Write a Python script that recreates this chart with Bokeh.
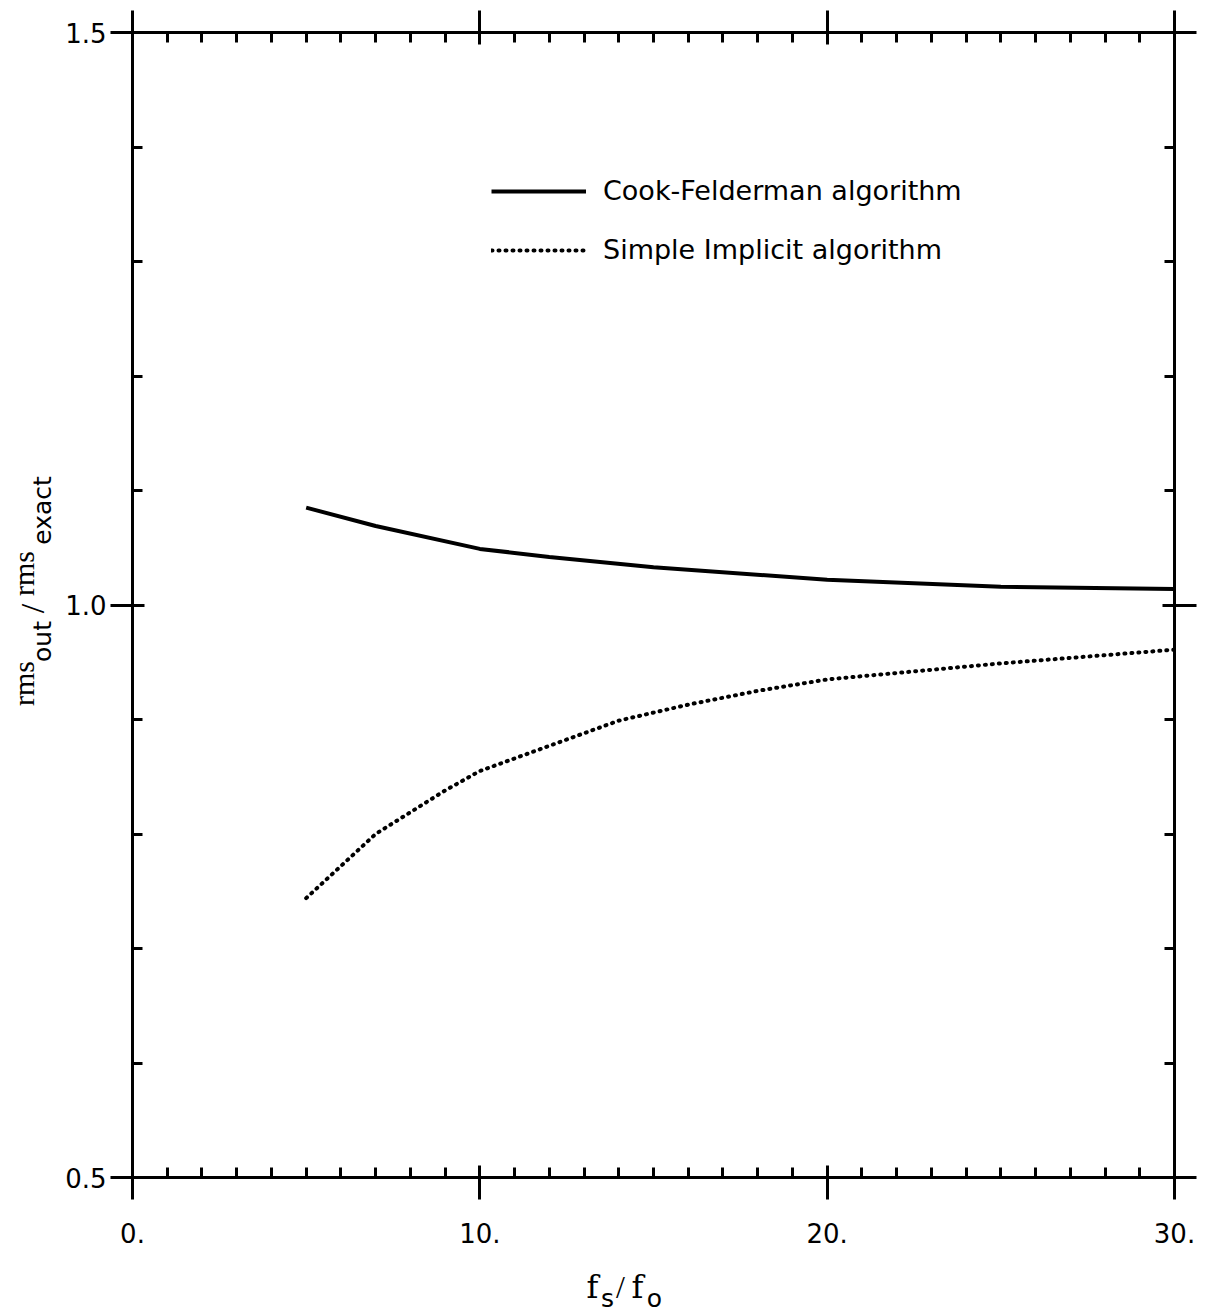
import math
from bokeh.plotting import figure
from bokeh.layouts import row, column
from bokeh.models import (Range1d, FixedTicker, LinearAxis, CustomJSTickFormatter,
                          Legend, LegendItem)
from bokeh.core.properties import value
from bokeh.embed import file_html
from bokeh.resources import INLINE

# ---- data ----
fs_cook = [5, 7, 10, 12, 15, 20, 25, 30]
ratio_cook = [1.085, 1.069, 1.049, 1.042, 1.033, 1.022, 1.016, 1.014]

fs_simple = [5, 7, 9, 10, 12, 14, 16, 18, 20, 25, 30]
ratio_simple = [0.744, 0.800, 0.838, 0.855, 0.877, 0.899, 0.913, 0.925, 0.935, 0.949, 0.961]

x_major = [0, 10, 20, 30]
x_minor = [v for v in range(0, 31) if v not in x_major]
y_major = [0.5, 1.0, 1.5]
y_minor = [0.6, 0.7, 0.8, 0.9, 1.1, 1.2, 1.3, 1.4]

series_names = ["Cook-Felderman algorithm", "Simple Implicit algorithm"]

# axis-title pieces
ylab_text = ["rms", "out", "/", "rms", "exact"]
xlab_text = ["f", "s", "/", "f", "o"]

# ---- layout constants ----
W, H = 1212, 1313
LEFT_W = 62          # strip holding the rotated y title
MAIN_H = 1262        # main plot height; strip below holds the x title
FL, FR, FT, FB = 131, 1174, 32, 1177
X0, X1, Y0, Y1 = 0, 30, 0.5, 1.5
YS_SHIFT = 34        # measured vertical offset of the rotated-title strip

SANS = "DejaVu Sans"
SERIF = "Liberation Serif"

p = figure(width=W - LEFT_W, height=MAIN_H, output_backend="svg", toolbar_location=None,
           title=None,
           x_range=Range1d(X0, X1), y_range=Range1d(Y0, Y1),
           x_axis_location=None, y_axis_location=None,
           min_border_left=FL - LEFT_W, min_border_right=W - FR,
           min_border_top=FT, min_border_bottom=MAIN_H - FB)
p.grid.visible = False
p.outline_line_color = None
p.background_fill_color = "white"
p.border_fill_color = "white"

xt = FixedTicker(ticks=x_major, minor_ticks=x_minor)
yt = FixedTicker(ticks=y_major, minor_ticks=y_minor)


def style(ax, show_labels):
    ax.axis_line_width = 3
    ax.axis_line_color = "black"
    ax.major_tick_line_width = 3
    ax.minor_tick_line_width = 3
    ax.major_tick_line_color = "black"
    ax.minor_tick_line_color = "black"
    ax.major_tick_in = 12
    ax.major_tick_out = 22
    ax.minor_tick_in = 10
    ax.minor_tick_out = 0
    ax.major_label_text_font = SANS
    ax.major_label_text_font_size = "26px"
    ax.major_label_text_color = "black"
    if not show_labels:
        ax.formatter = CustomJSTickFormatter(code="return ''")


bottom = LinearAxis(ticker=xt, formatter=CustomJSTickFormatter(code="return tick.toFixed(0) + '.'"))
style(bottom, True)
bottom.major_label_standoff = 23
top = LinearAxis(ticker=xt)
style(top, False)
left = LinearAxis(ticker=yt, formatter=CustomJSTickFormatter(code="return tick.toFixed(1)"))
style(left, True)
left.major_label_standoff = 4
right = LinearAxis(ticker=yt)
style(right, False)

p.add_layout(bottom, "below")
p.add_layout(top, "above")
p.add_layout(left, "left")
p.add_layout(right, "right")

r1 = p.line(fs_cook, ratio_cook, line_color="black", line_width=4)
r2 = p.line(fs_simple, ratio_simple, line_color="black", line_width=4,
            line_dash="1 6", line_cap="round")

legend = Legend(items=[LegendItem(label=series_names[0], renderers=[r1]),
                       LegendItem(label=series_names[1], renderers=[r2])],
                location=(490 - FL, FB - 265),
                glyph_width=95, glyph_height=30, label_height=30,
                spacing=28, label_standoff=17, padding=0, margin=0,
                border_line_color=None, background_fill_alpha=0,
                label_text_font=SANS, label_text_font_size="27px",
                label_text_color="black")
p.add_layout(legend, "center")


def strip(w, h):
    f = figure(width=w, height=h, frame_width=w, frame_height=h,
               output_backend="svg", toolbar_location=None, title=None,
               x_range=Range1d(0, w), y_range=Range1d(h, 0),
               x_axis_location=None, y_axis_location=None,
               min_border=0, min_border_left=0, min_border_right=0,
               min_border_top=0, min_border_bottom=0)
    f.grid.visible = False
    f.outline_line_color = None
    f.background_fill_color = "white"
    f.border_fill_color = "white"
    return f


# ---- y axis title: rms_out / rms_exact (rotated, reads upward); centre anchors ----
ys = strip(LEFT_W, MAIN_H)
ylab_pos = [(23, 685), (42, 643), (32, 610), (23, 575), (42, 512)]
ylab_font = [(SERIF, "30px"), (SANS, "25px"), (SERIF, "34px"), (SERIF, "30px"), (SANS, "25px")]
for txt, (cx, cy), (fnt, fsz) in zip(ylab_text, ylab_pos, ylab_font):
    ys.text(x=[cx], y=[cy - YS_SHIFT], text=[txt], angle=math.pi / 2,
            text_align="center", text_baseline="middle",
            text_font=value(fnt), text_font_size=fsz, text_color="black")

# ---- x axis title: f_s / f_o; centre anchors ----
xs = strip(W, H - MAIN_H)
xlab_pos = [(592, 1286), (607, 1298), (620, 1286), (637, 1286), (654, 1298)]
xlab_font = [("DejaVu Serif", "32px"), (SANS, "25px"), (SERIF, "32px"),
             ("DejaVu Serif", "32px"), (SANS, "25px")]
for txt, (cx, cy), (fnt, fsz) in zip(xlab_text, xlab_pos, xlab_font):
    xs.text(x=[cx], y=[cy - MAIN_H], text=[txt],
            text_align="center", text_baseline="middle",
            text_font=value(fnt), text_font_size=fsz, text_color="black")

layout = column(row(ys, p, spacing=0), xs, spacing=0)

open("out.html", "w").write(file_html(layout, INLINE))
